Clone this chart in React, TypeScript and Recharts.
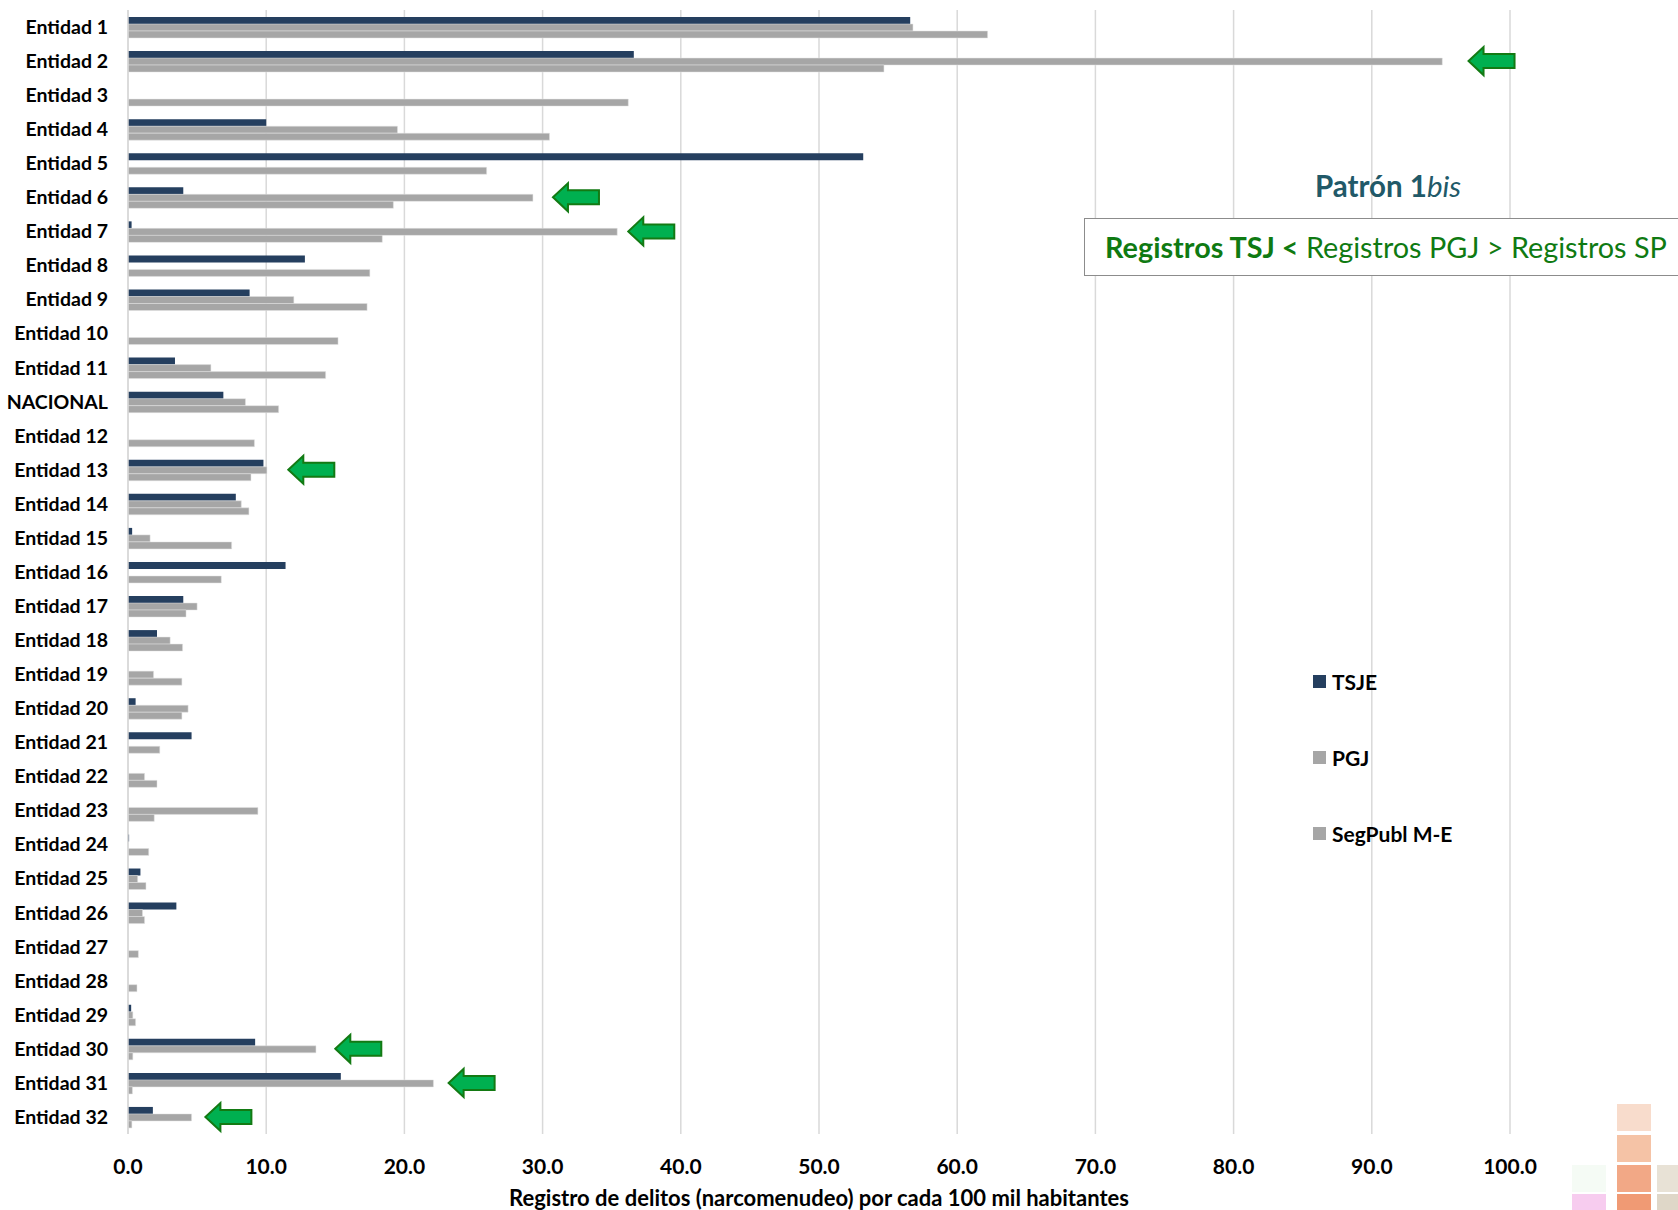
import {
  BarChart,
  Bar,
  XAxis,
  YAxis,
  CartesianGrid,
  Legend,
  ReferenceDot,
} from "recharts";

const categories = [
  "Entidad 1", "Entidad 2", "Entidad 3", "Entidad 4", "Entidad 5", "Entidad 6",
  "Entidad 7", "Entidad 8", "Entidad 9", "Entidad 10", "Entidad 11", "NACIONAL",
  "Entidad 12", "Entidad 13", "Entidad 14", "Entidad 15", "Entidad 16", "Entidad 17",
  "Entidad 18", "Entidad 19", "Entidad 20", "Entidad 21", "Entidad 22", "Entidad 23",
  "Entidad 24", "Entidad 25", "Entidad 26", "Entidad 27", "Entidad 28", "Entidad 29",
  "Entidad 30", "Entidad 31", "Entidad 32",
];

const tsje = [
  56.6, 36.6, 0, 10.0, 53.2, 4.0, 0.26, 12.8, 8.8, 0, 3.4, 6.9,
  0, 9.8, 7.8, 0.3, 11.4, 4.0, 2.1, 0, 0.55, 4.6, 0, 0,
  0.08, 0.9, 3.5, 0, 0, 0.23, 9.2, 15.4, 1.8,
];

const pgj = [
  56.8, 95.1, 0, 19.5, 0, 29.3, 35.4, 0, 12.0, 0, 6.0, 8.5,
  0, 10.05, 8.2, 1.6, 0, 5.0, 3.05, 1.85, 4.35, 0, 1.2, 9.4,
  0, 0.7, 1.05, 0, 0, 0.35, 13.6, 22.1, 4.6,
];

const segPubl = [
  62.2, 54.7, 36.2, 30.5, 25.95, 19.2, 18.4, 17.5, 17.3, 15.2, 14.3, 10.9,
  9.15, 8.9, 8.75, 7.5, 6.75, 4.2, 3.95, 3.9, 3.9, 2.3, 2.1, 1.9,
  1.5, 1.3, 1.2, 0.75, 0.65, 0.55, 0.35, 0.32, 0.28,
];

const xTicks = [0, 10, 20, 30, 40, 50, 60, 70, 80, 90, 100];

// flechas verdes: entidad y valor donde queda la punta
const arrows = [
  { entidad: "Entidad 2", x: 97.0 },
  { entidad: "Entidad 6", x: 30.75 },
  { entidad: "Entidad 7", x: 36.2 },
  { entidad: "Entidad 13", x: 11.6 },
  { entidad: "Entidad 30", x: 15.0 },
  { entidad: "Entidad 31", x: 23.2 },
  { entidad: "Entidad 32", x: 5.6 },
];

const series = [
  { key: "tsje", name: "TSJE", color: "#253F5F" },
  { key: "pgj", name: "PGJ", color: "#A6A6A6" },
  { key: "sp", name: "SegPubl M-E", color: "#A6A6A6" },
];

const data = categories.map((name, i) => ({
  name,
  tsje: tsje[i],
  pgj: pgj[i],
  sp: segPubl[i],
}));

const FONT = "Lato, 'Noto Sans', sans-serif";

function ArrowShape(props: any) {
  const { cx, cy } = props;
  if (cx == null || cy == null) return <g />;
  const y = cy;
  const pts = [
    [cx, y],
    [cx + 15, y - 14],
    [cx + 15, y - 7],
    [cx + 46, y - 7],
    [cx + 46, y + 7],
    [cx + 15, y + 7],
    [cx + 15, y + 14],
  ]
    .map((p) => p.join(","))
    .join(" ");
  return <polygon points={pts} fill="#00B050" stroke="#137A13" strokeWidth={2} />;
}

function LegendBox() {
  return (
    <div style={{ fontFamily: FONT, fontWeight: 700, fontSize: 21, color: "#000" }}>
      {series.map((s) => (
        <div
          key={s.key}
          style={{ display: "flex", alignItems: "center", height: 76 }}
        >
          <span
            style={{
              display: "inline-block",
              width: 13,
              height: 13,
              background: s.color,
              marginRight: 6,
            }}
          />
          {s.name}
        </div>
      ))}
    </div>
  );
}

const decoSquares = [
  { x: 1617, y: 1104, c: "#F8DCCC" },
  { x: 1617, y: 1135, c: "#F5C3A6" },
  { x: 1617, y: 1165, c: "#F2A886" },
  { x: 1617, y: 1194, c: "#F09A74" },
  { x: 1572, y: 1165, c: "#F5FBF5" },
  { x: 1572, y: 1194, c: "#F7CCEF" },
  { x: 1657, y: 1165, c: "#E8E2D6" },
  { x: 1657, y: 1194, c: "#DFD7C8" },
];

export default function App() {
  return (
    <div
      style={{
        position: "absolute",
        left: 0,
        top: 0,
        width: 1678,
        height: 1210,
        background: "#fff",
        overflow: "hidden",
        fontFamily: FONT,
      }}
    >
      <BarChart
        width={1678}
        height={1210}
        data={data}
        layout="vertical"
        margin={{ top: 10, right: 168, bottom: 0, left: 0 }}
        barSize={7}
        barGap={0}
      >
        <CartesianGrid horizontal={false} stroke="#D9D9D9" strokeWidth={1.5} />
        <XAxis
          type="number"
          domain={[0, 100]}
          ticks={xTicks}
          tickFormatter={(v: number) => v.toFixed(1)}
          axisLine={false}
          tickLine={false}
          tickSize={0}
          tickMargin={25}
          height={76}
          tick={{ fontSize: 21, fontWeight: 700, fill: "#000", fontFamily: FONT }}
          label={{
            value: "Registro de delitos (narcomenudeo) por cada 100 mil habitantes",
            position: "insideBottom",
            offset: 4,
            style: { fontSize: 22, fontWeight: 700, fill: "#000", fontFamily: FONT },
          }}
        />
        <YAxis
          type="category"
          dataKey="name"
          width={128}
          axisLine={{ stroke: "#D9D9D9", strokeWidth: 1.5 }}
          tickLine={false}
          tickSize={0}
          tickMargin={20}
          interval={0}
          tick={{ fontSize: 19.5, fontWeight: 700, fill: "#000", fontFamily: FONT }}
        />
        <Legend
          layout="horizontal"
          verticalAlign="middle"
          align="center"
          content={<LegendBox />}
          wrapperStyle={{ position: "absolute", left: 1313, top: 643, width: 220 }}
        />
        {series.map((s) => (
          <Bar
            key={s.key}
            dataKey={s.key}
            name={s.name}
            fill={s.color}
            stroke={s.key === "tsje" ? undefined : "#E2E2E2"}
            strokeWidth={0.5}
            isAnimationActive={false}
          />
        ))}
        {arrows.map((a) => (
          <ReferenceDot
            key={a.entidad}
            x={a.x}
            y={a.entidad}
            r={1}
            shape={ArrowShape}
            ifOverflow="visible"
          />
        ))}
      </BarChart>

      <div
        style={{
          position: "absolute",
          left: 1288,
          top: 168,
          width: 200,
          textAlign: "center",
          fontSize: 29.5,
          fontWeight: 700,
          color: "#215968",
        }}
      >
        Patrón 1<span style={{ fontStyle: "italic", fontWeight: 400 }}>bis</span>
      </div>

      <div
        style={{
          position: "absolute",
          left: 1084,
          top: 218,
          width: 610,
          height: 58,
          boxSizing: "border-box",
          border: "1.5px solid #8C8C8C",
          background: "#fff",
          display: "flex",
          alignItems: "center",
          paddingLeft: 20,
          fontSize: 28.8,
          color: "#0F7A12",
          whiteSpace: "nowrap",
        }}
      >
        <span style={{ fontWeight: 700 }}>Registros TSJ &lt;</span>
        <span>&nbsp;Registros PGJ &gt; Registros SP</span>
      </div>

      {decoSquares.map((d, i) => (
        <div
          key={i}
          style={{
            position: "absolute",
            left: d.x,
            top: d.y,
            width: 34,
            height: 27,
            background: d.c,
          }}
        />
      ))}
    </div>
  );
}
